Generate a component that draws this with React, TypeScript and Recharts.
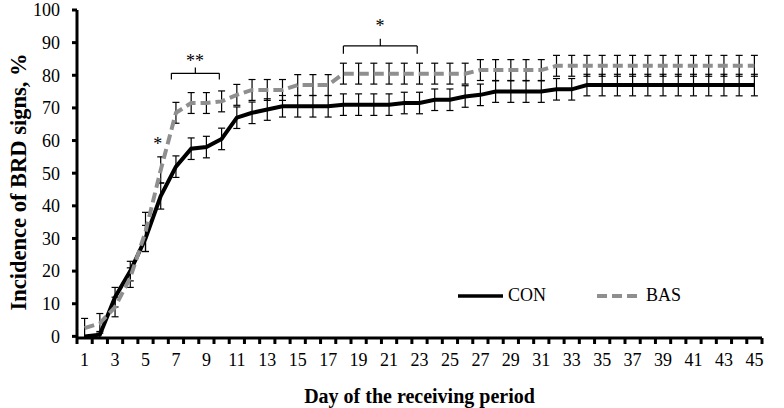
import React from "react";
import {
  LineChart,
  Line,
  XAxis,
  YAxis,
  ErrorBar,
  Legend,
  ReferenceLine,
  ReferenceDot,
} from "recharts";

const days = [
  1, 2, 3, 4, 5, 6, 7, 8, 9, 10, 11, 12, 13, 14, 15, 16, 17, 18, 19, 20, 21, 22, 23,
  24, 25, 26, 27, 28, 29, 30, 31, 32, 33, 34, 35, 36, 37, 38, 39, 40, 41, 42, 43, 44, 45,
];

const conValues = [
  0, 0.5, 12, 20, 30, 43, 52, 57.5, 58, 60.5, 67, 68.5, 69.5, 70.5, 70.5, 70.5, 70.5,
  71, 71, 71, 71, 71.5, 71.5, 72.5, 72.5, 73.5, 74, 75, 75, 75, 75, 75.7, 75.7,
  77, 77, 77, 77, 77, 77, 77, 77, 77, 77, 77, 77,
];

const basValues = [
  2.5, 4, 9, 18, 32, 51, 68.5, 71.5, 71.5, 72, 74, 75.5, 75.5, 75.5, 77, 77, 77,
  80.5, 80.5, 80.5, 80.5, 80.5, 80.5, 80.5, 80.5, 80.5,
  81.6, 81.6, 81.6, 81.6, 81.6,
  82.9, 82.9, 82.9, 82.9, 82.9, 82.9, 82.9, 82.9, 82.9, 82.9, 82.9, 82.9, 82.9, 82.9,
];

const conErr = [
  0, 1, 3, 3, 4, 4, 3.3, 3.3, 3.3, 3.3, 3.3, 3.3, 3.3, 3.3, 3.3, 3.3, 3.3, 3.3, 3.3,
  3.3, 3.3, 3.3, 3.3, 3.3, 3.3, 3.3, 3.3, 3.3, 3.3, 3.3, 3.3, 3.3, 3.3, 3.3, 3.3,
  3.3, 3.3, 3.3, 3.3, 3.3, 3.3, 3.3, 3.3, 3.3, 3.3,
];

const basErr = [
  3, 3, 3, 3, 6, 4, 3.2, 3.2, 3.2, 3.2, 3.2, 3.2, 3.2, 3.2, 3.2, 3.2, 3.2, 3.2, 3.2,
  3.2, 3.2, 3.2, 3.2, 3.2, 3.2, 3.2, 3.2, 3.2, 3.2, 3.2, 3.2, 3.2, 3.2, 3.2, 3.2,
  3.2, 3.2, 3.2, 3.2, 3.2, 3.2, 3.2, 3.2, 3.2, 3.2,
];

const yTicks = [0, 10, 20, 30, 40, 50, 60, 70, 80, 90, 100];

// significance brackets: [from day, to day, bar level, end level, nub level]
const brackets = [
  { from: 6.7, to: 9.85, level: 80.6, end: 78.7, nub: 82.4 },
  { from: 18, to: 22.85, level: 89, end: 86.6, nub: 91.2 },
];

const stars = [
  { day: 5.8, y: 59, text: "*" },
  { day: 8.25, y: 84.5, text: "**" },
  { day: 20.4, y: 95, text: "*" },
];

const data = days.map((d, i) => ({
  day: d,
  con: conValues[i],
  bas: basValues[i],
  conErr: conErr[i],
  basErr: basErr[i],
}));

const serif = "Liberation Serif";
const grey = "#8f8f8f";

function DayTick(props: any) {
  const { x, y, payload, width, visibleTicksCount, index } = props;
  const half = width / (visibleTicksCount * 2);
  const v = payload.value;
  const last = index === visibleTicksCount - 1;
  return (
    <g>
      <line x1={x - half} x2={x - half} y1={y} y2={y + 6} stroke="#000" strokeWidth={3} />
      {last && (
        <line x1={x + half} x2={x + half} y1={y} y2={y + 6} stroke="#000" strokeWidth={3} />
      )}
      {v % 2 === 1 && (
        <text
          x={x}
          y={y + 28}
          textAnchor="middle"
          style={{ fontFamily: serif, fontSize: 18 }}
          fill="#000"
        >
          {v}
        </text>
      )}
    </g>
  );
}

function StarLabel(props: any) {
  const { viewBox, value } = props;
  const cx = viewBox.x + (viewBox.width || 0) / 2;
  const cy = viewBox.y + (viewBox.height || 0) / 2;
  return (
    <text x={cx} y={cy} dy={6} textAnchor="middle" fill="#000" style={{ fontFamily: serif, fontSize: 18 }}>
      {value}
    </text>
  );
}

function LegendBox() {
  return (
    <div style={{ display: "flex", alignItems: "center", fontFamily: serif, fontSize: 18, color: "#000" }}>
      <svg width={46} height={10}>
        <line x1={0} x2={45} y1={5} y2={5} stroke="#000" strokeWidth={3.5} />
      </svg>
      <span style={{ marginLeft: 4 }}>CON</span>
      <svg width={46} height={10} style={{ marginLeft: 50 }}>
        <line x1={1} x2={42} y1={5} y2={5} stroke={grey} strokeWidth={4} strokeDasharray="10 5" />
      </svg>
      <span style={{ marginLeft: 4 }}>BAS</span>
    </div>
  );
}

export default function App() {
  return (
    <div style={{ fontFamily: serif }}>
      <style>{`body{margin:0} .recharts-text{font-family:'Liberation Serif',serif}`}</style>
      <LineChart
        width={784}
        height={408}
        data={data}
        margin={{ top: 10, right: 22, bottom: 40, left: 0 }}
      >
        <XAxis
          dataKey="day"
          type="number"
          domain={[0.5, 45.5]}
          ticks={days}
          interval={0}
          tickLine={false}
          tickSize={0}
          tickMargin={0}
          height={30}
          axisLine={{ stroke: "#000", strokeWidth: 3 }}
          tick={<DayTick />}
          label={{
            value: "Day of the receiving period",
            position: "insideBottom",
            offset: -35,
            fontWeight: "bold",
            fontSize: 20,
            fill: "#000",
          }}
        />
        <YAxis
          width={77}
          domain={[0, 100]}
          ticks={yTicks}
          interval={0}
          tickSize={5}
          tickMargin={12}
          axisLine={{ stroke: "#000", strokeWidth: 3 }}
          tickLine={{ stroke: "#000", strokeWidth: 3 }}
          tick={{ fontSize: 18, fill: "#000" }}
          label={{
            value: "Incidence of BRD signs, %",
            angle: -90,
            position: "insideLeft",
            offset: 18,
            dy: 8,
            fontWeight: "bold",
            fontSize: 22.5,
            fill: "#000",
            style: { textAnchor: "middle" },
          }}
        />
        <Legend
          layout="horizontal"
          verticalAlign="middle"
          content={<LegendBox />}
          wrapperStyle={{ position: "absolute", left: 458, top: 285, width: 260 }}
        />
        <Line
          type="linear"
          dataKey="con"
          name="CON"
          stroke="#000"
          strokeWidth={4}
          dot={false}
          isAnimationActive={false}
        >
          <ErrorBar dataKey="conErr" width={3.5} stroke="#000" strokeWidth={1.2} isAnimationActive={false} />
        </Line>
        <Line
          type="linear"
          dataKey="bas"
          name="BAS"
          stroke={grey}
          strokeWidth={4}
          strokeDasharray="10 5"
          dot={false}
          isAnimationActive={false}
        >
          <ErrorBar dataKey="basErr" width={3.5} stroke="#000" strokeWidth={1.2} isAnimationActive={false} />
        </Line>
        {brackets.map((b, i) => (
          <React.Fragment key={i}>
            <ReferenceLine
              segment={[{ x: b.from, y: b.level }, { x: b.to, y: b.level }]}
              stroke="#000"
              strokeWidth={1.2}
              ifOverflow="visible"
            />
            <ReferenceLine
              segment={[{ x: b.from, y: b.level }, { x: b.from, y: b.end }]}
              stroke="#000"
              strokeWidth={1.2}
              ifOverflow="visible"
            />
            <ReferenceLine
              segment={[{ x: b.to, y: b.level }, { x: b.to, y: b.end }]}
              stroke="#000"
              strokeWidth={1.2}
              ifOverflow="visible"
            />
            <ReferenceLine
              segment={[{ x: (b.from + b.to) / 2, y: b.level }, { x: (b.from + b.to) / 2, y: b.nub }]}
              stroke="#000"
              strokeWidth={1.2}
              ifOverflow="visible"
            />
          </React.Fragment>
        ))}
        {stars.map((s, i) => (
          <ReferenceDot
            key={"s" + i}
            x={s.day}
            y={s.y}
            r={0}
            fill="none"
            stroke="none"
            ifOverflow="visible"
            label={<StarLabel value={s.text} />}
          />
        ))}
      </LineChart>
    </div>
  );
}
